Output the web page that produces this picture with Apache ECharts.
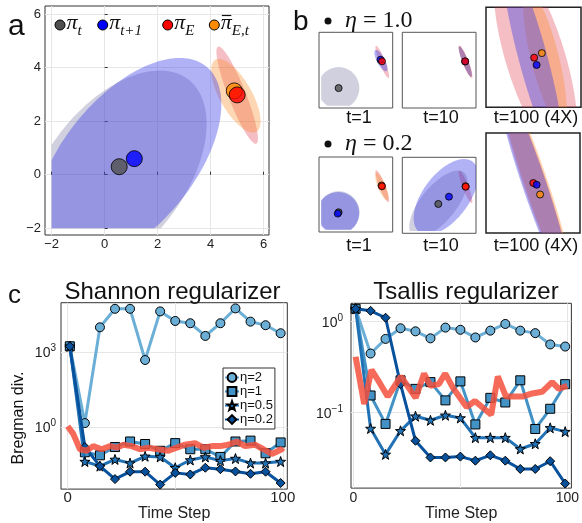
<!DOCTYPE html>
<html><head><meta charset="utf-8">
<script src="https://cdn.jsdelivr.net/npm/echarts@6/dist/echarts.min.js"></script>
<style>html,body{margin:0;padding:0;background:#fff}#c{width:582px;height:523px}</style>
</head><body><div id="c"></div>
<script>
// ================= DATA =================
// panel a : ellipses [cx, cy, semiA, semiB, angleDeg, kind], points [x, y, kind]
const ticksA = [-2, 0, 2, 4, 6];
const ellipsesA = [
  [0.40, 0.00, 4.50, 2.60, 52, 'gray'],
  [5.00, 2.97, 1.95, 0.33, -68.3, 'red'],
  [4.95, 2.95, 1.55, 0.60, -60, 'orange'],
  [0.90, 0.50, 4.60, 2.45, 50, 'blue']
];
const pointsA = [[0.55, 0.30, 'gray'], [1.12, 0.60, 'blue'], [4.89, 3.13, 'orange'], [5.00, 2.98, 'red']];

// panel b : eta = 1.0
const ellB11 = [[0, 0, 2.37, 2.37, 0, 'gray'], [5.00, 2.97, 1.95, 0.33, -68.3, 'red'], [4.85, 3.10, 1.35, 0.45, -62, 'blue']];
const ptsB11 = [[0, 0, 'gray'], [4.80, 3.20, 'blue'], [4.97, 3.02, 'red']];
const ellB12 = [[5.00, 2.97, 1.95, 0.34, -68.3, 'red'], [4.97, 3.00, 1.88, 0.32, -68.3, 'orange'], [4.97, 3.00, 1.85, 0.32, -68.3, 'blue']];
const ptsB12 = [[4.95, 3.00, 'blue'], [4.96, 3.02, 'red']];
const ellB13 = [[5.04, 2.97, 3.0, 0.85, -73, 'red'], [5.31, 2.97, 2.0, 0.40, -76, 'orange'], [4.97, 2.97, 3.0, 0.41, -75, 'blue']];
const ptsB13 = [[5.22, 3.12, 'orange'], [5.00, 2.99, 'red'], [5.07, 2.78, 'blue']];
// panel b : eta = 0.2
const ellB21 = [[0, 0, 2.4, 2.4, 0, 'gray'], [5.00, 2.97, 1.95, 0.33, -68.3, 'red'], [4.95, 2.95, 1.7, 0.45, -68, 'orange'], [-0.05, -0.1, 2.4, 2.4, 0, 'blue']];
const ptsB21 = [[0, 0, 'gray'], [-0.10, -0.15, 'blue'], [4.92, 3.05, 'orange'], [4.97, 2.96, 'red']];
const ellB22 = [[1.88, 1.05, 4.6, 2.0, 50, 'gray'], [5.00, 2.97, 1.95, 0.33, -68.3, 'red'], [2.75, 1.85, 5.0, 2.6, 52, 'blue']];
const ptsB22 = [[1.88, 1.05, 'gray'], [3.10, 1.87, 'blue'], [5.00, 3.05, 'orange'], [5.02, 2.99, 'red']];
const ellB23 = [[5.02, 3.00, 3.2, 0.33, -71.4, 'red'], [5.07, 2.97, 3.2, 0.33, -71.4, 'orange'], [4.99, 3.00, 3.2, 0.34, -71.4, 'blue']];
const ptsB23 = [[4.975, 3.00, 'red'], [5.07, 2.95, 'blue'], [5.17, 2.67, 'orange']];

// panel c
const steps = [1, 8, 15, 22, 29, 36, 43, 50, 57, 64, 71, 78, 85, 92, 99];
const etaNames = ['η=2', 'η=1', 'η=0.5', 'η=0.2'];
const shannonEta2 = [1660, 1.43, 9500, 52000, 52000, 470, 41000, 17000, 13800, 4300, 13800, 54000, 16000, 11500, 5500];
const shannonEta1 = [1660, 0.098, 0.074, 0.158, 0.263, 0.209, 0.112, 0.227, 0.129, 0.129, 0.0637, 0.263, 0.285, 0.0893, 0.241];
const shannonEta05 = [1660, 0.0417, 0.0273, 0.0506, 0.0361, 0.0676, 0.0637, 0.0236, 0.0481, 0.0637, 0.0454, 0.0551, 0.0361, 0.0361, 0.0417];
const shannonEta02 = [1660, 0.158, 0.0273, 0.0083, 0.0164, 0.0164, 0.0050, 0.0147, 0.0127, 0.0236, 0.0206, 0.0168, 0.0135, 0.0164, 0.0058];
const shannonRefT = [0, 2.6, 5.7, 8.8, 11.9, 15.8, 19.7, 22.8, 25.9, 29.8, 33.6, 37.5, 42.1, 46.8, 50.7, 54.6, 59.2, 63.1, 67, 70.8, 74.7, 78.6, 82.5, 87.1, 91, 94.9, 99.5, 100];
const shannonRefV = [1.07, 0.53, 0.129, 0.112, 0.172, 0.129, 0.172, 0.149, 0.196, 0.172, 0.129, 0.149, 0.129, 0.112, 0.149, 0.196, 0.227, 0.149, 0.172, 0.172, 0.196, 0.263, 0.172, 0.196, 0.129, 0.084, 0.129, 0.149];

const tsallisEta2 = [1.38, 0.445, 0.644, 0.843, 0.78, 0.653, 0.857, 0.811, 0.668, 0.794, 0.94, 0.794, 0.745, 0.56, 0.531];
const tsallisEta1 = [1.38, 0.154, 0.075, 0.226, 0.182, 0.216, 0.136, 0.22, 0.074, 0.145, 0.129, 0.226, 0.066, 0.110, 0.205];
const tsallisEta05 = [1.38, 0.0668, 0.0347, 0.063, 0.0912, 0.0822, 0.0933, 0.0871, 0.053, 0.053, 0.053, 0.0398, 0.0454, 0.0679, 0.0617];
const tsallisEta02 = [1.38, 1.31, 1.10, 0.205, 0.049, 0.0321, 0.0321, 0.0328, 0.0296, 0.0339, 0.0296, 0.024, 0.024, 0.0292, 0.0166];
const tsallisRefT = [1, 5, 8.4, 12.2, 16, 22.2, 29.1, 33, 36, 39.9, 42.9, 46.8, 52.9, 56.8, 64.4, 67.5, 71.3, 79, 83.6, 88.2, 92.9, 96, 100];
const tsallisRefV = [0.41, 0.124, 0.295, 0.213, 0.150, 0.249, 0.145, 0.268, 0.197, 0.205, 0.268, 0.182, 0.115, 0.134, 0.0946, 0.249, 0.150, 0.150, 0.162, 0.169, 0.216, 0.182, 0.197];

const timeTicks = [0, 50, 100];
const shannonDecades = [0, 3];
const tsallisDecades = [-1, 0];

// ================= STYLE =================
const sans = 'Liberation Sans';
const serif = 'Liberation Serif';
const ellFill = {gray: 'rgba(100,100,150,0.30)', blue: 'rgba(60,60,230,0.40)', red: 'rgba(220,40,60,0.30)', orange: 'rgba(250,140,40,0.35)'};
const ptFill = {gray: '#505050', blue: '#0000ff', red: '#ff0000', orange: '#ff8c00'};
const etaColors = ['#6baed6', '#4292c6', '#2171b5', '#08519c'];
const starPath = 'path://M0,-10 L2.35,-3.24 L9.51,-3.09 L3.8,1.24 L5.88,8.09 L0,4 L-5.88,8.09 L-3.8,1.24 L-9.51,-3.09 L-2.35,-3.24 Z';
const etaSymbols = ['circle', 'rect', starPath, 'diamond'];

// ================= HELPERS =================
function ellipsePts(e) {
  const [cx, cy, a, b, ang] = e, t = ang * Math.PI / 180, out = [];
  for (let i = 0; i < 160; i++) {
    const f = 2 * Math.PI * i / 160;
    out.push([cx + a * Math.cos(f) * Math.cos(t) - b * Math.sin(f) * Math.sin(t),
              cy + a * Math.cos(f) * Math.sin(t) + b * Math.sin(f) * Math.cos(t)]);
  }
  return out;
}
function clipPoly(poly, r) { // r = [x0,x1,y0,y1]
  const edges = [
    [p => p[0] >= r[0], (p, q) => { const k = (r[0] - p[0]) / (q[0] - p[0]); return [r[0], p[1] + k * (q[1] - p[1])]; }],
    [p => p[0] <= r[1], (p, q) => { const k = (r[1] - p[0]) / (q[0] - p[0]); return [r[1], p[1] + k * (q[1] - p[1])]; }],
    [p => p[1] >= r[2], (p, q) => { const k = (r[2] - p[1]) / (q[1] - p[1]); return [p[0] + k * (q[0] - p[0]), r[2]]; }],
    [p => p[1] <= r[3], (p, q) => { const k = (r[3] - p[1]) / (q[1] - p[1]); return [p[0] + k * (q[0] - p[0]), r[3]]; }]
  ];
  let out = poly;
  for (const [inside, inter] of edges) {
    const inp = out; out = [];
    for (let i = 0; i < inp.length; i++) {
      const cur = inp[i], prev = inp[(i + inp.length - 1) % inp.length];
      if (inside(cur)) { if (!inside(prev)) out.push(inter(prev, cur)); out.push(cur); }
      else if (inside(prev)) out.push(inter(prev, cur));
    }
    if (!out.length) break;
  }
  return out;
}
function ellSeries(gi, list, clip) {
  return {
    type: 'custom', xAxisIndex: gi, yAxisIndex: gi, silent: true, clip: false, z: 1,
    data: list.map(e => [e[0], e[1]]),
    renderItem: (params, api) => {
      const e = list[params.dataIndex];
      const poly = clipPoly(ellipsePts(e), clip);
      return {type: 'polygon', shape: {points: poly.map(p => api.coord(p))}, style: {fill: ellFill[e[5]], stroke: null}};
    }
  };
}
function ptSeries(gi, list, size) {
  return {
    type: 'scatter', xAxisIndex: gi, yAxisIndex: gi, silent: true, symbolSize: size, z: 3,
    data: list.map(p => ({value: [p[0], p[1]], itemStyle: {color: ptFill[p[2]], borderColor: '#000', borderWidth: 1}}))
  };
}
function hiddenAxis(gi, min, max) {
  return {gridIndex: gi, type: 'value', min, max, axisLine: {show: false}, axisTick: {show: false}, axisLabel: {show: false}, splitLine: {show: false}};
}
const minus = v => (v < 0 ? '\u2212' + (-v) : '' + v);
function T(x, y, text, size, o = {}) {
  const st = {text, fontSize: size, fontFamily: o.family || sans, fontStyle: o.italic ? 'italic' : 'normal', fill: o.color || '#111',
    align: o.align || 'left', verticalAlign: o.va || 'middle', textAlign: o.align || 'left', textVerticalAlign: o.va || 'middle'};
  if (o.rich) st.rich = o.rich;
  return {type: 'text', x, y, rotation: o.rotation || 0, silent: true, z: 10, style: st};
}

// ================= GRIDS =================
const boxW = 73.7;
const grids = [
  {left: 45, top: 6, width: 224, height: 229, show: true, borderColor: '#333', borderWidth: 1},
  {left: 319, top: 32.3, width: boxW, height: 75.7, show: true, borderColor: '#555', borderWidth: 1},
  {left: 402.3, top: 32.3, width: boxW, height: 75.7, show: true, borderColor: '#555', borderWidth: 1},
  {left: 486, top: 7.3, width: 95, height: 100, show: true, borderColor: '#222', borderWidth: 1.5},
  {left: 319, top: 157, width: boxW, height: 75, show: true, borderColor: '#555', borderWidth: 1},
  {left: 402.3, top: 157.3, width: boxW, height: 76, show: true, borderColor: '#555', borderWidth: 1},
  {left: 486, top: 133, width: 94, height: 100, show: true, borderColor: '#222', borderWidth: 1.5},
  {left: 61, top: 302.7, width: 226.3, height: 202.3, show: true, borderColor: '#333', borderWidth: 1},
  {left: 351, top: 303.3, width: 223, height: 201.2, show: true, borderColor: '#333', borderWidth: 1}
];
const bigX = [-2.25, 6.2], bigY = [-2.25, 6.3];
const zx = [3.62, 3.62 + 95 / 34.9], zy = [1.565, 4.435];
const clipBig = [-2, 6.2, -2, 6.3], clipZoom = [zx[0], zx[1], zy[0], zy[1]];

const gridLine = {show: true, lineStyle: {color: '#e6e6e6', width: 1}};
const xAxes = [
  {gridIndex: 0, type: 'value', min: bigX[0], max: bigX[1], axisLine: {show: false},
   axisTick: {show: true, inside: true, length: 3, customValues: ticksA, lineStyle: {color: '#333'}},
   axisLabel: {customValues: ticksA, formatter: minus, fontSize: 13, fontFamily: sans, color: '#222', margin: 3},
   splitLine: gridLine},
  hiddenAxis(1, bigX[0], bigX[1]), hiddenAxis(2, bigX[0], bigX[1]), hiddenAxis(3, zx[0], zx[1]),
  hiddenAxis(4, bigX[0], bigX[1]), hiddenAxis(5, bigX[0], bigX[1]), hiddenAxis(6, zx[0], 3.62 + 94 / 34.9),
  {gridIndex: 7, type: 'value', min: -3.1, max: 102.1, axisLine: {show: false}, axisTick: {show: false, customValues: timeTicks},
   axisLabel: {customValues: timeTicks, formatter: v => (v === 50 ? '' : '' + v), fontSize: 15, fontFamily: sans, color: '#222', margin: 1},
   splitLine: gridLine, name: 'Time Step', nameLocation: 'middle', nameGap: 9, nameTextStyle: {fontSize: 16, fontFamily: sans, color: '#222'}},
  {gridIndex: 8, type: 'value', min: -1.16, max: 101.9, axisLine: {show: false}, axisTick: {show: false, customValues: timeTicks},
   axisLabel: {customValues: timeTicks, formatter: v => (v === 50 ? '' : '' + v), fontSize: 14, fontFamily: sans, color: '#222', margin: 3},
   splitLine: gridLine, name: 'Time Step', nameLocation: 'middle', nameGap: 10, nameTextStyle: {fontSize: 16, fontFamily: sans, color: '#222'}}
];
const supRich = {b: {fontSize: 14, fontFamily: sans, color: '#222', lineHeight: 17, verticalAlign: 'bottom'},
                 s: {fontSize: 10, fontFamily: sans, color: '#222', lineHeight: 10, verticalAlign: 'top'}};
const yAxes = [
  {gridIndex: 0, type: 'value', min: bigY[0], max: bigY[1], axisLine: {show: false},
   axisTick: {show: true, inside: true, length: 3, customValues: ticksA, lineStyle: {color: '#333'}},
   axisLabel: {customValues: ticksA, formatter: minus, fontSize: 13, fontFamily: sans, color: '#222', margin: 4},
   splitLine: gridLine},
  hiddenAxis(1, bigY[0], bigY[1]), hiddenAxis(2, bigY[0], bigY[1]), hiddenAxis(3, zy[0], zy[1]),
  hiddenAxis(4, bigY[0], bigY[1]), hiddenAxis(5, bigY[0], bigY[1]), hiddenAxis(6, zy[0], zy[1]),
  {gridIndex: 7, type: 'value', min: -2.48, max: 4.96, axisLine: {show: false}, axisTick: {show: false, customValues: shannonDecades},
   axisLabel: {customValues: shannonDecades, formatter: v => '{b|10}{s|' + minus(v) + '}', rich: supRich, margin: 5},
   splitLine: gridLine},
  {gridIndex: 8, type: 'value', min: -1.83, max: 0.2, axisLine: {show: false}, axisTick: {show: false, customValues: tsallisDecades},
   axisLabel: {customValues: tsallisDecades, formatter: v => '{b|10}{s|' + minus(v) + '}', rich: supRich, margin: 8},
   splitLine: gridLine}
];

// ================= SERIES =================
const series = [
  ellSeries(0, ellipsesA, clipBig), ptSeries(0, pointsA, 16),
  ellSeries(1, ellB11, clipBig), ptSeries(1, ptsB11, 7),
  ellSeries(2, ellB12, clipBig), ptSeries(2, ptsB12, 7),
  ellSeries(3, ellB13, clipZoom), ptSeries(3, ptsB13, 7),
  ellSeries(4, ellB21, clipBig), ptSeries(4, ptsB21, 7),
  ellSeries(5, ellB22, clipBig), ptSeries(5, ptsB22, 7),
  ellSeries(6, ellB23, clipZoom), ptSeries(6, ptsB23, 7)
];
function etaSeries(gi, arrs, named) {
  arrs.forEach((vals, k) => {
    series.push({
      type: 'line', name: named ? etaNames[k] : 'ts' + k, xAxisIndex: gi, yAxisIndex: gi, silent: true, z: 4 + k,
      data: steps.map((t, i) => [t, Math.log10(vals[i])]),
      symbol: etaSymbols[k], symbolSize: k === 2 ? 10 : 9, showAllSymbol: true,
      lineStyle: {color: etaColors[k], width: 3},
      itemStyle: {color: etaColors[k], borderColor: '#000', borderWidth: 1}
    });
  });
}
etaSeries(7, [shannonEta2, shannonEta1, shannonEta05, shannonEta02], true);
etaSeries(8, [tsallisEta2, tsallisEta1, tsallisEta05, tsallisEta02], false);
series.push({type: 'line', name: 'refS', xAxisIndex: 7, yAxisIndex: 7, silent: true, symbol: 'none', z: 9,
  data: shannonRefT.map((t, i) => [t, Math.log10(shannonRefV[i])]), lineStyle: {color: '#f4503c', width: 6, opacity: 0.85}});
series.push({type: 'line', name: 'refT', xAxisIndex: 8, yAxisIndex: 8, silent: true, symbol: 'none', z: 9,
  data: tsallisRefT.map((t, i) => [t, Math.log10(tsallisRefV[i])]), lineStyle: {color: '#f4503c', width: 6, opacity: 0.85}});

// ================= TEXT =================
const g = [];
g.push(T(8, 27, 'a', 30));
g.push(T(293, 22, 'b', 28));
g.push(T(8, 296, 'c', 26));
// legend of panel a
const legA = [[60, 'gray', 'π', 't'], [102.7, 'blue', 'π', 't+1'], [167.7, 'red', 'π', 'E'], [214.3, 'orange', 'π', 'E,t']];
legA.forEach(([cx, k, p, sub], i) => {
  g.push({type: 'circle', shape: {cx, cy: 25, r: 5}, style: {fill: ptFill[k], stroke: '#000', lineWidth: 1}, z: 10, silent: true});
  g.push(T(cx + 6.5, 23.5, p, 22, {family: serif, italic: true}));
  g.push(T(cx + 17.5, 31, sub, 15, {family: serif, italic: true}));
  if (i === 3) g.push({type: 'line', shape: {x1: cx + 7.5, y1: 15.5, x2: cx + 17, y2: 15.5}, style: {stroke: '#111', lineWidth: 1.2}, z: 10, silent: true});
});
// panel b headers
[[21, '1.0'], [144, '0.2']].forEach(([y, v]) => {
  g.push({type: 'circle', shape: {cx: 328, cy: y, r: 3.5}, style: {fill: '#111'}, z: 10, silent: true});
  g.push(T(345, y, '{i|η} = ' + v, 24, {family: serif, rich: {i: {fontStyle: 'italic', fontSize: 24, fontFamily: serif}}}));
});
[[359, 't=1'], [441, 't=10'], [536, 't=100 (4X)']].forEach(([x, s]) => {
  g.push(T(x, 118.5, s, 18, {align: 'center'}));
  g.push(T(x, 246, s, 18, {align: 'center'}));
});
g.push(T(172.5, 292, 'Shannon regularizer', 24, {align: 'center'}));
g.push(T(466, 292, 'Tsallis regularizer', 24, {align: 'center'}));
g.push(T(19, 418, 'Bregman div.', 16, {align: 'center', rotation: Math.PI / 2}));

const chart = echarts.init(document.getElementById('c'), null, {renderer: 'canvas'});
chart.setOption({
  animation: false,
  backgroundColor: '#fff',
  grid: grids, xAxis: xAxes, yAxis: yAxes, series,
  legend: {data: etaNames, left: 223, top: 368, orient: 'vertical', selectedMode: false, itemGap: 1, itemWidth: 14, itemHeight: 11,
    padding: [3, 2, 3, 1], borderColor: '#333', borderWidth: 1, backgroundColor: '#fff',
    textStyle: {fontSize: 13, fontFamily: sans, color: '#111', padding: [0, 0, 0, -4]}},
  graphic: {elements: g}
});
</script></body></html>
